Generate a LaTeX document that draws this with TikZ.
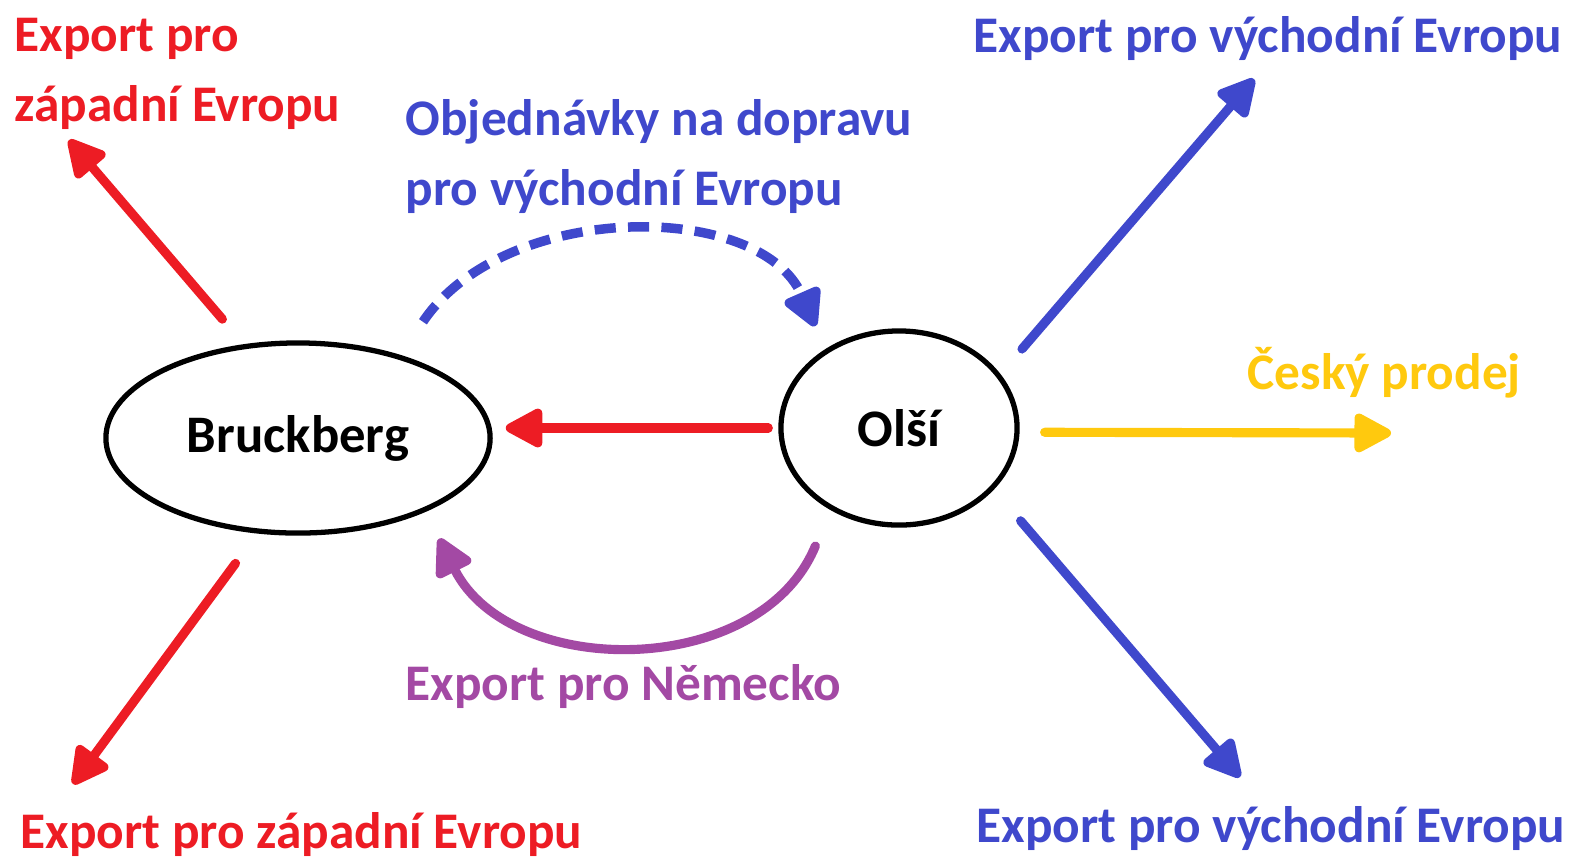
\documentclass[tikz,border=0pt]{standalone}
\usepackage{fontspec}
\setmainfont{Carlito}
\usetikzlibrary{arrows.meta,shapes.geometric}
\definecolor{cervena}{RGB}{237,28,36}
\definecolor{modra}{RGB}{63,72,204}
\definecolor{zluta}{RGB}{255,201,14}
\definecolor{fialova}{RGB}{163,73,164}

\begin{document}
\begin{tikzpicture}[x=0.01cm,y=-0.01cm,
    mesto/.style={draw,ellipse,line width=1.5pt,inner sep=0pt,font=\fontsize{15}{18}\selectfont\bfseries},
    popis/.style={anchor=base west,align=left,inner sep=0pt,font=\fontsize{14.6}{19.8}\selectfont\bfseries},
    sipka/.style={line width=2.6pt,line cap=round,-{Triangle[round,length=12pt,width=12pt]}}]
    \useasboundingbox (0,0) rectangle (1586,857);

    \node[mesto,minimum width=3.84cm,minimum height=1.90cm] (bruck) at (298,438) {Bruckberg};
    \node[mesto,minimum width=2.36cm,minimum height=1.94cm] (olsi) at (899,428) {Olší};

	\node[popis,text=cervena] (zap1) at (14,121) {Export pro\\západní Evropu};
	\node[popis,text=modra] (obj) at (405,205) {Objednávky na dopravu\\pro východní Evropu};
	\node[popis,text=modra] (vych1) at (973,52) {Export pro východní Evropu};
	\node[popis,text=zluta] (cz) at (1247,389) {Český prodej};
	\node[popis,text=fialova] (nem) at (405,700) {Export pro Německo};
	\node[popis,text=cervena] (zap2) at (20,848) {Export pro západní Evropu};
	\node[popis,text=modra] (vych2) at (976,842) {Export pro východní Evropu};

	\coordinate (zapTip1) at (69,140);
	\coordinate (zapTip2) at (73,784);
	\coordinate (vychTip1) at (1254,79);
	\coordinate (vychTip2) at (1240,777);
	\coordinate (czTip) at (1391,433);

	\draw[sipka,cervena,shorten <=0.33cm] (bruck.120) -- (zapTip1);
	\draw[sipka,cervena,shorten <=0.37cm] (bruck.247) -- (zapTip2);
	\draw[sipka,modra,shorten <=0.33cm] (olsi.28) -- (vychTip1);
	\draw[sipka,modra,shorten <=0.41cm] (olsi.-33) -- (vychTip2);
	\draw[sipka,zluta,shorten <=0.25cm] (olsi.-2) -- (czTip);
	\draw[sipka,cervena,shorten <=0.1cm,shorten >=0.13cm] (olsi.west) -- (olsi.west -| bruck.east);

	\draw[sipka,modra,line cap=butt,line width=2.7pt,dash pattern=on 6pt off 3.5pt,shorten <=0.4cm,shorten >=0.25cm]
		(bruck.39) .. controls (505,200) and (760,200) .. (olsi.133);
	\draw[sipka,fialova,shorten <=0.39cm,shorten >=0.3cm]
		(olsi.230) .. controls (760,680) and (510,680) .. (bruck.-30);
\end{tikzpicture}
\end{document}
